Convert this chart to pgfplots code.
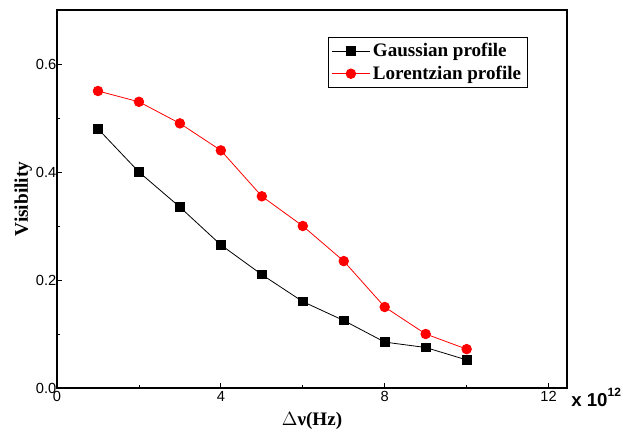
\documentclass[border=0pt]{standalone}
\usepackage{fontspec}
\setmainfont{Liberation Serif}
\newfontfamily\arial{Liberation Sans}
\usepackage{pgfplots}
\pgfplotsset{compat=1.18}
\usetikzlibrary{calc}
\begin{document}
\begin{tikzpicture}
\begin{axis}[
    scale only axis,
    width=382.5pt,
    height=283.5pt,
    xmin=0, xmax=12.45,
    ymin=0, ymax=0.7,
    xtick={0,4,8,12},
    minor xtick={2,6,10},
    ytick={0,0.2,0.4,0.6},
    minor ytick={0.1,0.3,0.5},
    tick pos=left,
    tick align=inside,
    major tick length=4pt,
    minor tick length=2.5pt,
    axis line style={line width=0.9pt},
    tick style={line width=0.6pt, black},
    ticklabel style={font=\arial\fontsize{11}{12}\selectfont},
    /pgf/number format/assume math mode=true,
    yticklabel style={/pgf/number format/.cd, fixed, precision=1, zerofill},
    xticklabel style={/pgf/number format/.cd, fixed},
    yticklabel shift=-3pt,
    xticklabel shift=-1pt,
    xlabel={\bfseries\fontsize{14.3}{16}\selectfont $\Delta$ν(Hz)},
    ylabel={\bfseries\fontsize{14.5}{16}\selectfont Visibility},
    xlabel style={yshift=-1pt},
    ylabel style={yshift=-4pt},
    legend style={at={(0.531,0.929)}, anchor=north west,
        font=\bfseries\fontsize{14.3}{15}\selectfont,
        draw=black, line width=0.6pt, inner sep=2.5pt, row sep=1.5pt,
        legend cell align=left},
    every axis plot/.append style={
        legend image code/.code={
            \draw[mark repeat=2, mark phase=2, line width=0.6pt, ##1]
                plot coordinates {(0cm,0cm) (0.5cm,0cm) (1cm,0cm)};}},
]
    \addplot[black, line width=0.6pt, mark=square*, mark size=3.2pt] coordinates {
        (1,0.480) (2,0.400) (3,0.335) (4,0.265) (5,0.210)
        (6,0.160) (7,0.125) (8,0.085) (9,0.075) (10,0.052)
    };
    \addlegendentry{Gaussian profile}
    \addplot[red, line width=0.6pt, mark=*, mark size=3.6pt] coordinates {
        (1,0.550) (2,0.530) (3,0.490) (4,0.440) (5,0.355)
        (6,0.300) (7,0.235) (8,0.150) (9,0.100) (10,0.072)
    };
    \addlegendentry{Lorentzian profile}
\end{axis}
\node[anchor=west, font=\arial\bfseries\fontsize{14}{16}\selectfont, inner sep=0pt]
    at ($(current axis.south east)+(3pt,-7pt)$) {x 10\raisebox{0.55em}{\fontsize{9}{10}\selectfont 12}};
\path ($(current axis.south west)+(-42.75pt,-31.5pt)$) rectangle ($(current axis.north east)+(42.75pt,7.5pt)$);
\end{tikzpicture}
\end{document}
